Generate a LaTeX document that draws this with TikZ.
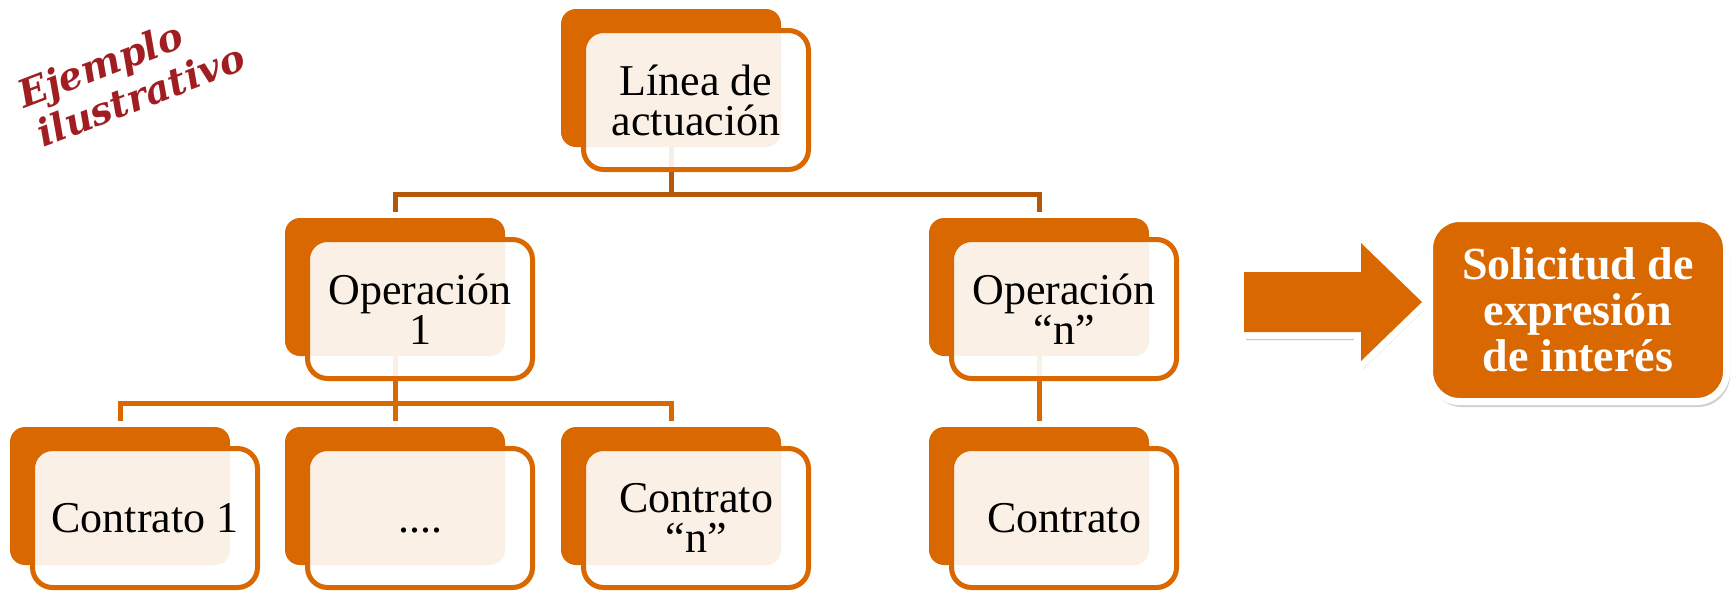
\documentclass[tikz,border=0pt]{standalone}
\usepackage{fontspec}
\setmainfont{Liberation Serif}
\newfontfamily\tagfont{DejaVu Serif}

\definecolor{boxorange}{RGB}{218,104,0}
\definecolor{linkbrown}{RGB}{178,88,8}
\definecolor{tagred}{RGB}{160,30,34}

\tikzset{
  backbox/.style={fill=boxorange, rounded corners=7.5pt, minimum width=110pt, minimum height=69pt, inner sep=0pt},
  frontbox/.style={draw=boxorange, line width=2.5pt, fill=white, fill opacity=0.9, text opacity=1,
    rounded corners=10pt, minimum width=112.5pt, minimum height=69.5pt, inner sep=2pt,
    align=center, font=\fontsize{22}{20}\selectfont},
  toplink/.style={draw=linkbrown, line width=2.5pt, shorten >=3pt},
  sublink/.style={draw=boxorange, line width=2.5pt, shorten >=3pt},
  arrowshade/.style={fill=black!25},
  arrowbody/.style={fill=boxorange},
  arrowedge/.style={draw=white, line width=7pt, line join=miter},
  goalshade/.style={fill=black!18, rounded corners=16pt, minimum width=150pt, minimum height=93pt},
  goalbox/.style={fill=boxorange, draw=white, line width=3.5pt, rounded corners=15pt,
    minimum width=148.5pt, minimum height=91.5pt, text=white, align=center,
    font=\bfseries\fontsize{23}{23}\selectfont},
  tagtext/.style={rotate=21, anchor=base west, inner sep=0pt, text=tagred, align=left,
    font=\tagfont\bfseries\itshape\fontsize{19}{21.4}\selectfont}
}

\begin{document}
\begin{tikzpicture}[x=0.5pt, y=-0.5pt]
  \path[use as bounding box, fill=white] (0,0) rectangle (1735,591);

  % label in the corner
  \node[tagtext] (ej) at (39,149) {Ejemplo\\\hspace{2pt}ilustrativo};

  % dark boxes behind
  \node[backbox] (lin-b) at (671,78) {};
  \node[backbox] (op1-b) at (395,287) {};
  \node[backbox] (opn-b) at (1039,287) {};
  \node[backbox] (c1-b) at (120,496) {};
  \node[backbox] (cdots-b) at (395,496) {};
  \node[backbox] (cn-b) at (671,496) {};
  \node[backbox] (cc-b) at (1039,496) {};

  % links
  \draw[toplink] (lin-b.south) -- ++(0,47) coordinate (lin-j) -| (op1-b.north);
  \draw[toplink] (lin-j) -| (opn-b.north);
  \draw[sublink] (op1-b.south) -- ++(0,47) coordinate (op1-j) -| (c1-b.north);
  \draw[sublink] (op1-j) -| (cn-b.north);
  \draw[sublink] (op1-j) -- (cdots-b.north);
  \draw[sublink] (opn-b.south) -- (cc-b.north);

  % front boxes with the text
  \node[frontbox] (lin) at (696,100) {Línea de\\actuación};
  \node[frontbox] (op1) at (420,309) {Operación\\1};
  \node[frontbox] (opn) at (1064,309) {Operación\\“n”};
  \node[frontbox] (c1) at (145,518) {Contrato 1};
  \node[frontbox] (cdots) at (420,518) {\vphantom{Contrato 1}....};
  \node[frontbox] (cn) at (696,518) {Contrato\\“n”};
  \node[frontbox] (cc) at (1064,518) {Contrato};

  % result
  \node[goalshade] (sol-s) at (1580,314) {};
  \node[goalbox] (sol) at (1578,310) {Solicitud de\\expresión\\de interés};

  % big arrow: shadow, white rim, then the orange shape on top
  \fill[arrowshade] (1246,280) -- (1363,280) -- (1363,251) -- (1424,310)
    -- (1363,369) -- (1363,340) -- (1246,340) -- cycle;
  \draw[arrowedge] (1244,272) -- (1361,272) -- (1361,243) -- (1422,302)
    -- (1361,361) -- (1361,332) -- (1244,332) -- cycle;
  \fill[arrowbody] (1244,272) -- (1361,272) -- (1361,243) -- (1422,302)
    -- (1361,361) -- (1361,332) -- (1244,332) -- cycle;
\end{tikzpicture}
\end{document}
